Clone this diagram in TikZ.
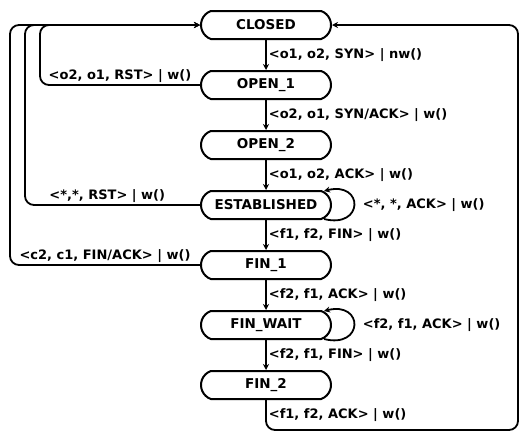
\documentclass[tikz,border=0pt]{standalone}
\usepackage{fontspec}
\setmainfont{DejaVu Sans}
\usepackage{tikz}
\usetikzlibrary{arrows.meta, shapes.misc}

\tikzset{
  fsmstate/.style={draw, line width=2pt, rounded rectangle, rounded rectangle arc length=140,
    minimum width=134pt, minimum height=28pt, inner sep=2pt, font=\bfseries\fontsize{13.5}{15}\selectfont},
  trans/.style={-{Stealth[length=6pt,width=6pt]}, line width=1.8pt},
  back/.style={trans, rounded corners=9pt},
  lbl/.style={font=\bfseries\fontsize{13}{15}\selectfont, inner sep=2pt},
}

\begin{document}
\begin{tikzpicture}[x=1pt,y=-1pt]
  \useasboundingbox (0,0) rectangle (523,432);

  % states
  \node[fsmstate] (closed) at (266,25)  {CLOSED};
  \node[fsmstate] (open1)  at (266,85)  {OPEN\_1};
  \node[fsmstate] (open2)  at (266,145) {OPEN\_2};
  \node[fsmstate] (est)    at (266,205) {ESTABLISHED};
  \node[fsmstate] (fin1)   at (266,265) {FIN\_1};
  \node[fsmstate] (finw)   at (266,325) {FIN\_WAIT};
  \node[fsmstate] (fin2)   at (266,385) {FIN\_2};

  % normal path
  \draw[trans] (closed) -- node[lbl, right] {<o1, o2, SYN> | nw()} (open1);
  \draw[trans] (open1) -- node[lbl, right] {<o2, o1, SYN/ACK> | w()} (open2);
  \draw[trans] (open2) -- node[lbl, right] {<o1, o2, ACK> | w()} (est);
  \draw[trans] (est) -- node[lbl, right] {<f1, f2, FIN> | w()} (fin1);
  \draw[trans] (fin1) -- node[lbl, right] {<f2, f1, ACK> | w()} (finw);
  \draw[trans] (finw) -- node[lbl, right] {<f2, f1, FIN> | w()} (fin2);

  % self loops
  \draw[trans] ([xshift=-8pt,yshift=-14pt]est.east) .. controls +(40pt,-10pt) and +(40pt,10pt)
    .. node[lbl, right, xshift=6pt] {<*, *, ACK> | w()} ([xshift=-8pt,yshift=14pt]est.east);
  \draw[trans] ([xshift=-8pt,yshift=-14pt]finw.east) .. controls +(40pt,-10pt) and +(40pt,10pt)
    .. node[lbl, right, xshift=6pt] {<f2, f1, ACK> | w()} ([xshift=-8pt,yshift=14pt]finw.east);

  % back to CLOSED
  \draw[back] (open1.west) -- node[lbl, above] {<o2, o1, RST> | w()} (40,85) -- (40,25) -- (closed.west);
  \draw[back] (est.west) -- node[lbl, above, pos=0.53] {<*,*, RST> | w()} (25,205) -- (25,25) -- (closed.west);
  \draw[back] (fin1.west) -- node[lbl, above] {<c2, c1, FIN/ACK> | w()} (10,265) -- (10,25) -- (closed.west);
  \draw[back] (fin2.south) -- node[lbl, right] {<f1, f2, ACK> | w()} (266,430) -- (518,430) -- (518,25) -- (closed.east);
\end{tikzpicture}
\end{document}
